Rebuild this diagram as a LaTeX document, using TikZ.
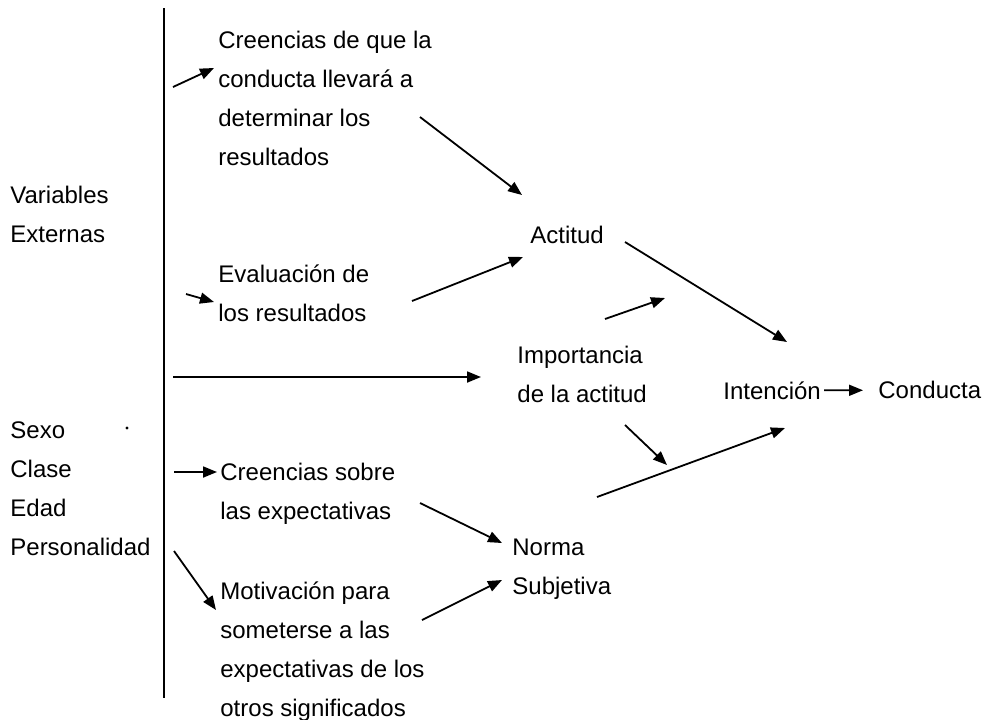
\documentclass[tikz,border=0pt]{standalone}
\usepackage{fontspec}
\setmainfont{Liberation Sans}
\usetikzlibrary{arrows.meta}
\tikzstyle{txt}=[anchor=north west,align=left,inner sep=0pt,font=\fontsize{12}{19.5}\selectfont]
\tikzstyle{arr}=[-{Triangle[length=7pt,width=5.5pt]},line width=0.9pt]

\begin{document}
\begin{tikzpicture}[x=0.5pt,y=-0.5pt]
    \useasboundingbox (0,0) rectangle (990,719);
    \draw[line width=0.9pt] (164,8) -- (164,698);
    \fill (127,428) circle (1.6);

    \node[txt] (ext)  at (10,186)  {Variables\\Externas};
    \node[txt] (dem)  at (10,421)  {Sexo\\Clase\\Edad\\Personalidad};
    \node[txt] (crr)  at (218,31)  {Creencias de que la\\conducta llevará a\\determinar los\\resultados};
    \node[txt] (evr)  at (218,264) {Evaluación de\\los resultados};
    \node[txt] (act)  at (530,226) {Actitud};
    \node[txt] (imp)  at (517,346) {Importancia\\de la actitud};
    \node[txt] (int)  at (723,381) {Intención};
    \node[txt] (cond) at (878,381) {Conducta};
    \node[txt] (cse)  at (220,463) {Creencias sobre\\las expectativas};
    \node[txt] (nsu)  at (512,539) {Norma\\Subjetiva};
    \node[txt] (mot)  at (220,581) {Motivación para\\someterse a las\\expectativas de los\\otros significados};

    \coordinate (a1) at (173,87);   \coordinate (b1) at (214,68);
    \coordinate (a2) at (420,117);  \coordinate (b2) at (522,195);
    \coordinate (a3) at (186,294);  \coordinate (b3) at (214,302);
    \coordinate (a4) at (412,301);  \coordinate (b4) at (523,257);
    \coordinate (a5) at (173,377);  \coordinate (b5) at (481,377);
    \coordinate (a6) at (605,319);  \coordinate (b6) at (665,298);
    \coordinate (a7) at (625,425);  \coordinate (b7) at (667,465);
    \coordinate (a8) at (625,242);  \coordinate (b8) at (787,342);
    \coordinate (a9) at (597,497);  \coordinate (b9) at (785,428);
    \coordinate (a11) at (174,472); \coordinate (b11) at (217,472);
    \coordinate (a12) at (420,503); \coordinate (b12) at (502,543);
    \coordinate (a13) at (174,551); \coordinate (b13) at (216,610);
    \coordinate (a14) at (422,620); \coordinate (b14) at (502,580);

    \foreach \from/\to in {a1/b1,a2/b2,a3/b3,a4/b4,a5/b5,a6/b6,a7/b7,a8/b8,a9/b9,a11/b11,a12/b12,a13/b13,a14/b14}
    \draw[arr] (\from) -- (\to);
    \draw[arr,shorten <=1.5pt,shorten >=7.5pt] (int) -- (cond);
\end{tikzpicture}
\end{document}
